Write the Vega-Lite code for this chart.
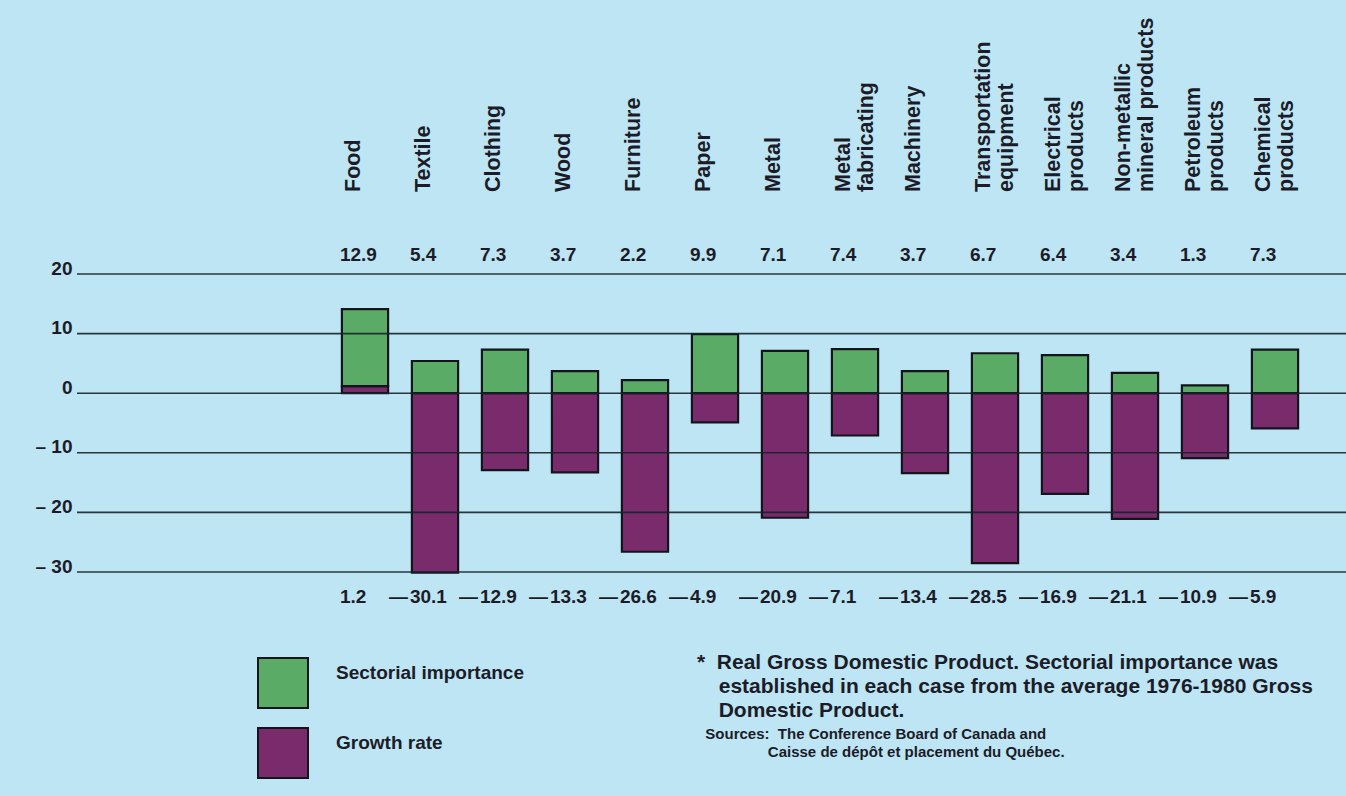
{
  "$schema": "https://vega.github.io/schema/vega-lite/v6.json",
  "width": 1269,
  "height": 298,
  "autosize": {"type": "none"},
  "padding": {"left": 77, "top": 274, "right": 0, "bottom": 224},
  "background": "#bde5f3",
  "config": {
    "view": {"stroke": null},
    "font": "Liberation Sans",
    "legend": {"labelFont": "Liberation Sans"},
    "title": {"font": "Liberation Sans", "subtitleFont": "Liberation Sans"}
  },
  "title": {
    "text": [
      "*\u00a0\u00a0Real Gross Domestic Product. Sectorial importance was",
      "\u200b\u00a0\u00a0\u00a0\u2009established in each case from the average 1976-1980 Gross",
      "\u200b\u00a0\u00a0\u00a0\u2009Domestic Product."
    ],
    "subtitle": [
      "\u200b\u00a0\u00a0Sources:\u00a0 The Conference Board of Canada and",
      "\u200b\u00a0\u00a0\u00a0\u00a0\u00a0\u00a0\u00a0\u00a0\u00a0\u00a0\u00a0\u00a0\u00a0\u00a0\u00a0\u00a0\u00a0Caisse de dépôt et placement du Québec."
    ],
    "orient": "bottom",
    "anchor": "start",
    "frame": "group",
    "dx": 620,
    "offset": -130,
    "fontSize": 21,
    "fontWeight": "bold",
    "color": "#1c1c28",
    "lineHeight": 24,
    "subtitleFontSize": 15,
    "subtitleFontWeight": "bold",
    "subtitleColor": "#1c1c28",
    "subtitleLineHeight": 18,
    "subtitlePadding": 6
  },
  "data": {
    "values": [
      {"sector": "Food", "importance": 12.9, "growth": 1.2},
      {"sector": "Textile", "importance": 5.4, "growth": -30.1},
      {"sector": "Clothing", "importance": 7.3, "growth": -12.9},
      {"sector": "Wood", "importance": 3.7, "growth": -13.3},
      {"sector": "Furniture", "importance": 2.2, "growth": -26.6},
      {"sector": "Paper", "importance": 9.9, "growth": -4.9},
      {"sector": "Metal", "importance": 7.1, "growth": -20.9},
      {"sector": "Metal\nfabricating", "importance": 7.4, "growth": -7.1},
      {"sector": "Machinery", "importance": 3.7, "growth": -13.4},
      {"sector": "Transportation\nequipment", "importance": 6.7, "growth": -28.5},
      {"sector": "Electrical\nproducts", "importance": 6.4, "growth": -16.9},
      {"sector": "Non-metallic\nmineral products", "importance": 3.4, "growth": -21.1},
      {"sector": "Petroleum\nproducts", "importance": 1.3, "growth": -10.9},
      {"sector": "Chemical\nproducts", "importance": 7.3, "growth": -5.9}
    ]
  },
  "layer": [
    {
      "transform": [{"fold": ["growth", "importance"], "as": ["measure", "value"]}],
      "mark": {"type": "bar", "stroke": "#14141c", "strokeWidth": 2.2},
      "encoding": {
        "x": {
          "field": "sector",
          "type": "nominal",
          "sort": null,
          "axis": null,
          "scale": {"range": [253, 1233], "paddingInner": 0.34, "paddingOuter": 0.17}
        },
        "y": {
          "field": "value",
          "type": "quantitative",
          "stack": "zero",
          "scale": {"domain": [-30, 20], "nice": false},
          "axis": {
            "title": null,
            "values": [20, 10, 0, -10, -20, -30],
            "domain": false,
            "ticks": false,
            "grid": false,
            "labelFontSize": 19,
            "labelFontWeight": "bold",
            "labelColor": "#1c1c28",
            "labelBaseline": "alphabetic",
            "labelPadding": 5,
            "labelExpr": "datum.value < 0 ? '\u2013 ' + abs(datum.value) : datum.label"
          }
        },
        "color": {
          "field": "measure",
          "type": "nominal",
          "scale": {"domain": ["importance", "growth"], "range": ["#5aab66", "#7a2b6c"]},
          "legend": {
            "title": null,
            "orient": "none",
            "legendX": 180,
            "legendY": 383,
            "symbolType": "square",
            "symbolSize": 2500,
            "symbolStrokeColor": "#14141c",
            "symbolStrokeWidth": 2,
            "symbolOpacity": 1,
            "rowPadding": 12,
            "labelOffset": 27,
            "labelFontSize": 19,
            "labelFontWeight": "bold",
            "labelColor": "#1c1c28",
            "labelBaseline": "bottom",
            "labelLimit": 400,
            "labelExpr": "datum.value == 'importance' ? 'Sectorial importance' : 'Growth rate'"
          }
        },
        "order": {"field": "measure", "sort": "ascending"}
      }
    },
    {
      "data": {"values": [{"v": 20}, {"v": 10}, {"v": 0}, {"v": -10}, {"v": -20}, {"v": -30}]},
      "mark": {"type": "rule", "color": "#17222a", "strokeWidth": 1.6, "opacity": 0.9},
      "encoding": {
        "y": {"field": "v", "type": "quantitative"}
      }
    },
    {
      "mark": {
        "type": "text",
        "angle": 270,
        "align": "left",
        "baseline": "top",
        "dx": 82,
        "dy": 1,
        "fontSize": 21.5,
        "fontWeight": "bold",
        "lineHeight": 23,
        "lineBreak": "\n",
        "color": "#1c1c28"
      },
      "encoding": {
        "x": {"field": "sector", "type": "nominal", "sort": null, "bandPosition": 0},
        "y": {"datum": 20},
        "text": {"field": "sector"}
      }
    },
    {
      "mark": {
        "type": "text",
        "align": "left",
        "baseline": "alphabetic",
        "dx": -2,
        "dy": -13,
        "fontSize": 19,
        "fontWeight": "bold",
        "color": "#1c1c28"
      },
      "encoding": {
        "x": {"field": "sector", "type": "nominal", "sort": null, "bandPosition": 0},
        "y": {"datum": 20},
        "text": {"field": "importance", "format": ".1f"}
      }
    },
    {
      "mark": {
        "type": "text",
        "align": "left",
        "baseline": "alphabetic",
        "dx": -2,
        "dy": 31,
        "fontSize": 19,
        "fontWeight": "bold",
        "color": "#1c1c28",
        "text": {"expr": "format(abs(datum.growth), '.1f')"}
      },
      "encoding": {
        "x": {"field": "sector", "type": "nominal", "sort": null, "bandPosition": 0},
        "y": {"datum": -30}
      }
    },
    {
      "mark": {
        "type": "text",
        "align": "right",
        "baseline": "alphabetic",
        "dx": -4,
        "dy": 31,
        "fontSize": 19,
        "fontWeight": "bold",
        "color": "#1c1c28",
        "text": {"expr": "datum.growth < 0 ? '\u2014' : ''"}
      },
      "encoding": {
        "x": {"field": "sector", "type": "nominal", "sort": null, "bandPosition": 0},
        "y": {"datum": -30}
      }
    }
  ]
}
